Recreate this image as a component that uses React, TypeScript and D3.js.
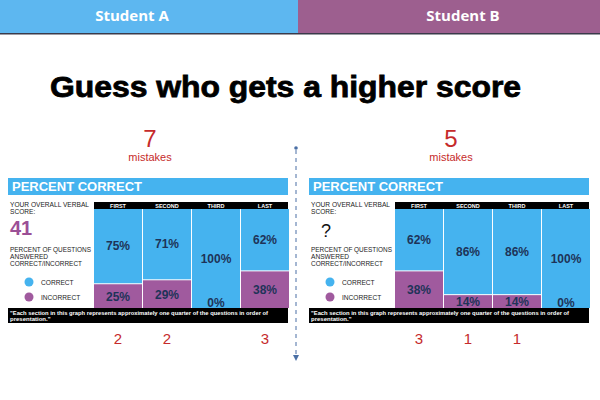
import React from "react";
import * as d3 from "d3";

const students = ["Student A", "Student B"];
const sections = ["FIRST", "SECOND", "THIRD", "LAST"];
const correctA = [75, 71, 100, 62];
const correctB = [62, 86, 86, 100];
const mistakesA = [2, 2, 0, 3];
const mistakesB = [3, 1, 1, 0];
const totalMistakes = [7, 5];
const scores = ["41", "?"];

const BLUE = "#45B3EF";
const PURPLE = "#A05A9E";
const RED = "#C62B2B";
const NAVY = "#1E3358";
const FONT = "'Liberation Sans', Arial, sans-serif";

function Panel({ ox, correct, mistakes, total, score }: { ox: number; correct: number[]; mistakes: number[]; total: number; score: string }) {
  const x = d3.scaleBand<string>().domain(sections).range([ox + 94, ox + 289]).paddingInner(0.02);
  const y = d3.scaleLinear().domain([0, 100]).range([308, 209]);
  const isScore = score !== "?";
  return (
    <g fontFamily={FONT}>
      <text x={ox + 150} y={147} textAnchor="middle" fontSize={24} fill={RED}>{total}</text>
      <text x={ox + 150} y={161} textAnchor="middle" fontSize={11} fill={RED}>mistakes</text>
      <rect x={ox + 8} y={178} width={280} height={17} fill={BLUE} />
      <text x={ox + 12} y={191} fontSize={13} fontWeight="bold" fill="#fff">PERCENT CORRECT</text>
      <rect x={ox + 94} y={202} width={194} height={7} fill="#000" />
      {sections.map((s) => (
        <text key={s} x={(x(s) as number) + x.bandwidth() / 2} y={208} textAnchor="middle" fontSize={5.5} fontWeight="bold" fill="#fff">{s}</text>
      ))}
      {sections.map((s, i) => {
        const c = correct[i];
        const inc = 100 - c;
        const bx = x(s) as number;
        const bw = x.bandwidth();
        const cx = bx + bw / 2;
        return (
          <g key={"b" + s}>
            <rect x={bx} y={y(100)} width={bw} height={y(inc) - y(100)} fill={BLUE} />
            {inc > 0 && <rect x={bx} y={y(inc) + 1} width={bw} height={y(0) - y(inc) - 1} fill={PURPLE} />}
            <text x={cx} y={(y(100) + y(inc)) / 2 + 4} textAnchor="middle" fontSize={12} fontWeight="bold" fill={NAVY}>{c}%</text>
            <text x={cx} y={inc > 0 ? (y(inc) + y(0)) / 2 + 5 : 307} textAnchor="middle" fontSize={12} fontWeight="bold" fill={NAVY}>{inc}%</text>
          </g>
        );
      })}
      <rect x={ox + 8} y={308} width={280} height={15} fill="#000" />
      <text x={ox + 10} y={314.5} fontSize={6} fontWeight="bold" fill="#fff" textLength={258} lengthAdjust="spacingAndGlyphs">"Each section in this graph represents approximately one quarter of the questions in order of</text>
      <text x={ox + 10} y={321} fontSize={6} fontWeight="bold" fill="#fff">presentation."</text>
      <g fontSize={6.6} fill="#222">
        <text x={ox + 10} y={207} textLength={79} lengthAdjust="spacingAndGlyphs">YOUR OVERALL VERBAL</text>
        <text x={ox + 10} y={214}>SCORE:</text>
        <text x={ox + 10} y={252} textLength={81} lengthAdjust="spacingAndGlyphs">PERCENT OF QUESTIONS</text>
        <text x={ox + 10} y={259}>ANSWERED</text>
        <text x={ox + 10} y={266} textLength={72} lengthAdjust="spacingAndGlyphs">CORRECT/INCORRECT</text>
        <text x={ox + 41} y={285}>CORRECT</text>
        <text x={ox + 41} y={300}>INCORRECT</text>
      </g>
      {isScore ? (
        <text x={ox + 10} y={235} fontSize={20} fontWeight="bold" fill="#9B4F96">{score}</text>
      ) : (
        <text x={ox + 25} y={237} textAnchor="middle" fontSize={18} fill="#111">{score}</text>
      )}
      <circle cx={ox + 29} cy={282} r={4.5} fill={BLUE} />
      <circle cx={ox + 29} cy={297} r={4.5} fill={PURPLE} />
      {sections.map((s, i) =>
        mistakes[i] > 0 ? (
          <text key={"m" + s} x={(x(s) as number) + x.bandwidth() / 2} y={344} textAnchor="middle" fontSize={15} fill={RED}>{mistakes[i]}</text>
        ) : null
      )}
    </g>
  );
}

export default function App() {
  return (
    <svg width={600} height={400} style={{ position: "absolute", left: 0, top: 0, background: "#fff" }}>
      <rect x={0} y={0} width={298} height={34} fill="#5DB7F0" />
      <rect x={298} y={0} width={302} height={34} fill="#9D5F8F" />
      <rect x={0} y={33} width={600} height={1.5} fill="#3a3a4a" />
      <text x={132} y={21} textAnchor="middle" fontSize={15} fontWeight="bold" fill="#fff" fontFamily="'Open Sans', sans-serif">{students[0]}</text>
      <text x={463} y={21} textAnchor="middle" fontSize={15} fontWeight="bold" fill="#fff" fontFamily="'Open Sans', sans-serif">{students[1]}</text>
      <text x={50} y={97} fontSize={30} fontWeight="bold" fill="#000" stroke="#000" strokeWidth={0.8} fontFamily={FONT} textLength={471} lengthAdjust="spacingAndGlyphs">Guess who gets a higher score</text>
      <Panel ox={0} correct={correctA} mistakes={mistakesA} total={totalMistakes[0]} score={scores[0]} />
      <Panel ox={301} correct={correctB} mistakes={mistakesB} total={totalMistakes[1]} score={scores[1]} />
      <line x1={296} x2={296} y1={150} y2={355} stroke="#4A6FA5" strokeWidth={1} strokeDasharray="4,4" />
      <circle cx={296} cy={148} r={1.8} fill="#4A6FA5" />
      <path d="M293,355 L299,355 L296,361 Z" fill="#4A6FA5" />
    </svg>
  );
}
